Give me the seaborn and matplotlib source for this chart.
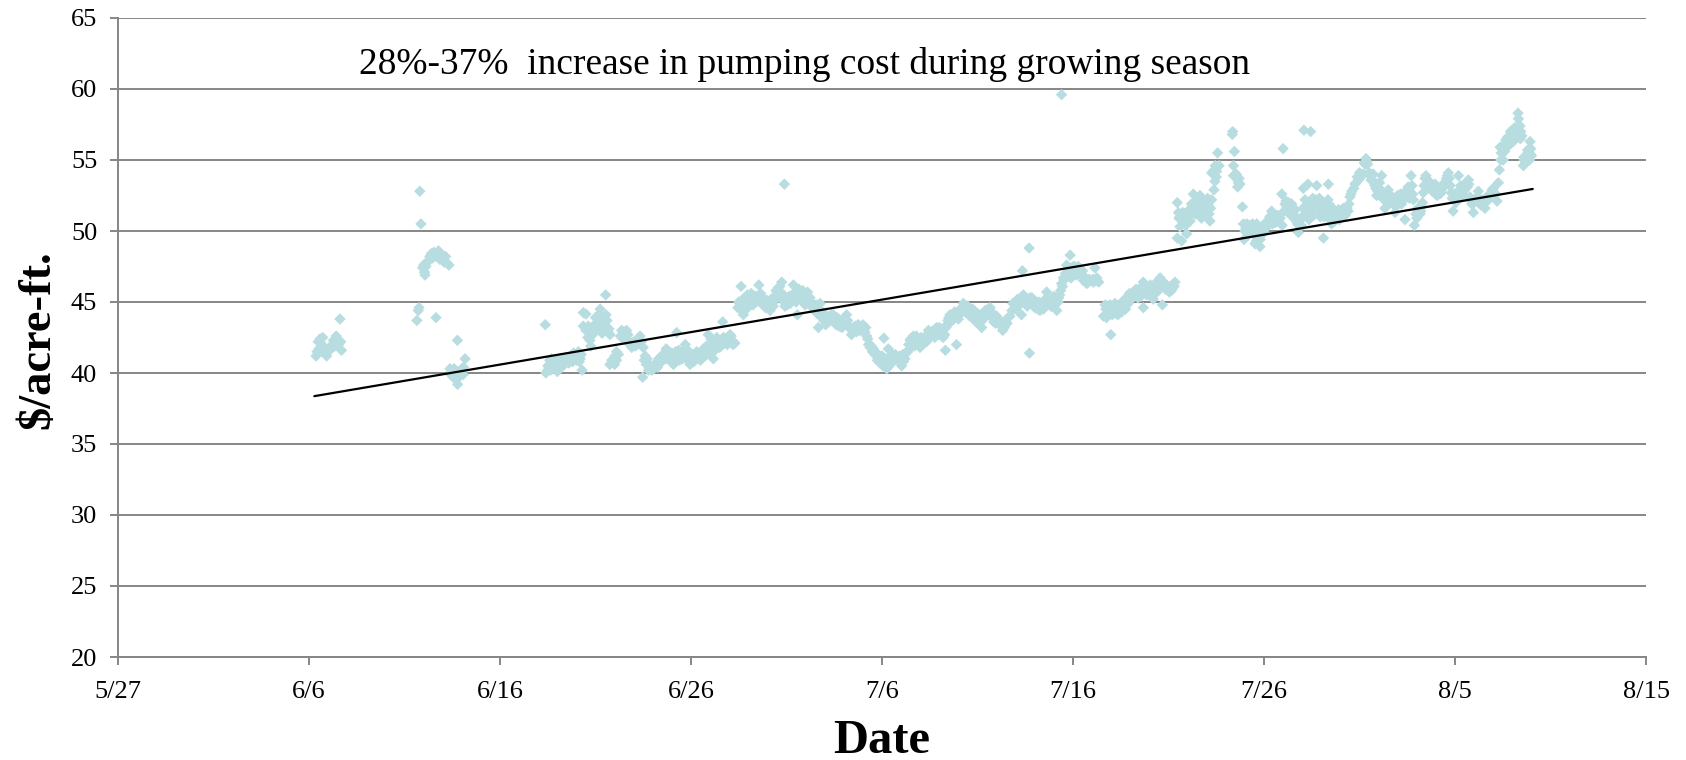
import matplotlib
matplotlib.use("Agg")
import matplotlib.pyplot as plt
import pandas as pd
import seaborn as sns

# days since 5/27 and pumping cost in $/acre-ft
a_days = [10.37,10.42,10.48,10.52,10.58,10.62,10.68,10.72,10.78,10.85,10.92,11.0,11.08,11.15,11.22,11.28,11.35,11.42,11.48,11.55,11.62,11.66,11.7]
a_vals = [41.2,41.5,42.2,41.7,42.4,42.1,41.6,42.5,41.8,41.5,41.2,41.7,41.6,41.9,41.8,42.3,41.9,42.6,42.3,42.0,43.8,42.2,41.6]

b_days = [15.65,15.72,15.76,15.8,15.86,15.95,16.0,16.05,16.07,16.12,16.18,16.25,16.32,16.4,16.48,16.55,16.65,16.7,16.78,16.85,16.92,17.0,17.08,17.15,17.25,17.33]
b_vals = [43.7,44.4,44.6,52.8,50.5,47.4,47.6,47.1,46.9,47.5,47.8,47.9,48.2,48.4,48.1,48.5,43.9,48.2,48.6,48.0,48.4,48.2,47.8,48.2,47.7,47.6]

c_days = [17.38,17.42,17.48,17.55,17.6,17.66,17.72,17.77,17.78,17.85,17.92,18.0,18.08,18.17,18.1]
c_vals = [40.3,39.9,40.1,39.7,40.3,39.6,40.0,42.3,39.2,39.7,40.1,40.3,39.9,41.0,40.4]

d_days = [22.37,22.4,22.5,22.6,22.65,22.75,22.85,22.95,23.05,23.1,23.2,23.3,23.4,23.5,23.6,23.7,23.8,23.85,23.95,24.05,
          24.15,24.25,24.3,24.36,24.5,24.36,24.5,24.6,24.71,24.62,24.8,24.75,24.85,24.95,25.0,25.1,25.15,25.24,25.3,25.35,
          25.4,25.53,25.55,25.6,25.65,25.76,25.75,25.85,25.93,26.02,26.1,26.2,26.3,26.37,26.45,26.55,26.63,26.72,26.8,26.9,
          27.0,27.1,27.2,27.33,27.4,27.47,27.5,27.55,27.6,27.66,27.77,27.87,27.95,28.05,28.15,28.25,28.37,28.47,28.55,28.65,
          28.7,28.8,28.9,29.0,29.08,29.18,29.25,29.3,29.4,29.5,29.6,29.7,29.78,29.86]
d_vals = [43.4,40.0,40.5,40.9,40.2,40.7,40.3,40.9,40.4,40.8,40.6,41.0,40.7,41.0,40.7,41.2,40.8,41.4,41.0,41.3,
          40.8,41.3,40.2,44.25,44.15,43.3,43.0,42.5,42.3,43.3,43.0,41.9,42.7,43.4,43.9,43.4,44.1,44.5,43.7,42.8,
          43.5,45.5,44.1,43.2,42.9,42.7,40.6,40.9,40.9,41.2,40.9,41.3,42.6,43.0,42.4,42.7,43.0,42.3,42.0,41.8,
          42.2,41.9,42.1,42.6,42.2,39.7,41.8,40.9,41.2,40.6,40.2,40.5,40.2,40.3,40.7,40.4,40.9,41.2,40.9,41.1,
          41.7,41.3,41.0,41.4,40.6,41.0,42.85,41.3,40.9,41.5,41.2,42.0,41.4,41.1]

e_days = [29.95,30.05,30.15,30.3,30.4,30.5,30.6,30.72,30.82,30.9,30.95,31.05,31.17,31.25,31.35,31.42,31.5,31.58,31.66,31.75,
          31.85,31.95,32.04,32.15,32.3,32.45,32.5,32.6,32.65,32.62,32.74,32.85,32.95,33.0,33.1,33.2,33.3,33.4,33.55,33.6,
          33.7,33.8,33.9,34.0,34.14,34.25,34.35,34.45,34.57,34.7,34.75,34.89,34.92,35.0,35.1,35.2,35.3,35.36,35.45,35.53,
          35.57,35.65,35.75,35.85,35.97,36.05,36.15,36.23,36.35,36.5,36.67,36.76,36.85,36.95,37.05,37.15,37.3,37.45,37.55,37.65,
          37.75,37.9,38.0,38.15,38.3,38.4,38.5,38.65,38.8,39.0,39.1,39.2,39.3,39.37,39.5,39.64,39.75,39.9,40.0,40.1,
          40.15,40.25,40.33,40.42]
e_vals = [40.6,41.1,40.8,41.5,41.0,40.9,41.4,41.2,41.9,42.7,41.4,42.4,41.0,41.6,42.5,42.0,41.8,42.3,43.6,42.1,
          42.4,42.2,42.7,42.3,42.1,44.6,45.0,44.5,45.1,46.1,44.1,44.8,45.5,44.7,45.3,44.9,45.2,45.0,46.2,45.0,
          45.3,44.8,44.6,45.1,44.4,44.9,45.3,45.8,46.0,45.6,46.4,53.3,44.7,45.3,45.0,44.9,45.5,46.2,45.2,45.6,
          44.1,45.9,45.4,45.8,44.8,45.4,45.0,45.3,44.6,44.4,43.2,44.9,43.9,43.7,43.4,44.0,43.7,44.1,43.6,43.9,
          43.3,43.2,43.7,44.1,43.3,42.7,43.2,42.9,43.0,43.4,42.9,42.6,42.0,41.8,41.5,41.3,40.9,40.7,41.2,42.45,
          40.6,40.3,41.7,41.1]

f_days = [40.5,40.6,40.7,40.82,40.93,41.03,41.12,41.2,41.3,41.4,41.47,41.55,41.64,41.75,41.87,41.99,42.1,42.22,42.33,42.43,
          42.55,42.66,42.76,42.86,42.98,43.1,43.2,43.32,43.35,43.45,43.56,43.68,43.8,43.9,44.0,44.1,44.26,44.4,44.55,44.68,
          44.8,44.92,45.05,45.22,45.35,45.5,45.66,45.72,45.85,46.0,46.15,46.32,46.45,46.6,46.8,46.95,47.1,47.3,47.35,47.4,
          47.55,47.7,47.72,47.75,47.9,48.05,48.15,48.27,48.4,48.5,48.62,48.75,48.9,49.0,49.15,49.22,49.3,49.4,49.5,49.6,
          49.67,49.75,49.85,49.95,50.05,50.15,50.28,50.4,50.5,50.6,50.72,50.85,51.15,51.07,51.2,51.35]
f_vals = [40.8,40.9,41.3,40.9,41.2,40.5,40.8,41.0,41.5,42.0,42.3,41.9,42.6,42.2,42.4,41.8,42.3,42.5,42.2,43.0,
          42.6,42.8,42.5,43.2,42.7,43.0,42.5,41.6,43.2,43.7,44.1,43.9,44.3,42.0,43.8,44.5,44.9,44.6,44.3,44.0,
          44.1,43.6,43.8,43.2,43.9,44.2,44.6,44.0,43.6,44.0,43.4,43.0,43.6,43.9,44.4,44.9,45.2,44.1,47.2,45.5,
          45.1,48.8,41.4,45.3,44.8,45.0,44.5,44.4,44.8,45.1,45.7,44.9,45.0,45.4,44.4,45.0,45.5,46.3,46.7,47.0,
          47.6,46.8,48.3,47.2,46.9,47.3,47.5,47.0,47.2,46.7,46.3,46.6,47.4,46.4,46.5,46.4]

g_days = [51.6,51.68,51.75,51.85,51.98,51.95,52.05,52.15,52.25,52.35,52.5,52.64,52.75,52.85,52.95,53.05,53.16,53.25,53.35,53.45,
          53.55,53.68,53.68,53.8,53.95,54.12,54.2,54.3,54.4,54.56,54.68,54.72,54.85,54.99,55.1,55.22,55.34]
g_vals = [44.0,44.8,43.9,44.6,42.7,44.8,44.1,44.4,44.2,44.1,44.7,45.1,44.5,45.0,45.6,45.2,45.7,45.8,45.5,45.9,
          45.4,46.4,44.6,45.8,46.0,45.8,45.2,46.3,45.7,46.7,44.8,46.4,45.9,45.8,46.1,46.0,46.4]

h_days = [55.46,55.46,55.52,55.6,55.69,55.72,55.86,55.95,56.02,56.13,56.2,56.3,56.4,56.48,56.56,56.65,56.72,56.82,56.9,57.0,
          57.08,57.17,57.26,57.38,57.43,57.26,57.4,57.52,57.57,57.65,58.34,58.36,58.45,58.4,58.5,58.57,58.65,58.74,58.87,58.92,
          58.95,59.05,59.15,59.25,59.35,59.45,59.53,59.62,59.72,59.79,59.85,60.0,60.1,60.25,60.4,60.45,60.6,60.75,60.93,61.0,
          61.05,61.15,61.25,61.36,61.45,61.55,61.65,61.8,61.9,62.0,62.06,62.09,62.15,62.3,62.35,62.44,62.5,62.6,62.76,62.7,
          62.85,62.95,63.05,63.11,63.2,63.37,63.35,63.45,63.54,63.65,63.8,63.9,64.0,64.15,64.25,64.4]
h_vals = [52.0,49.5,51.3,50.3,49.3,50.8,51.2,49.8,51.4,50.7,51.9,52.6,51.2,52.2,51.6,52.5,50.9,51.4,52.0,51.1,
          51.8,50.7,52.2,52.9,53.5,54.1,54.3,54.2,55.5,54.6,56.8,57.0,55.6,54.6,53.9,53.7,53.4,53.3,51.7,50.5,
          49.4,50.2,49.7,50.4,50.1,50.0,49.1,50.5,49.5,48.9,50.1,49.9,50.2,50.8,51.4,50.5,50.6,50.7,52.6,55.8,
          51.4,52.1,51.3,51.6,51.9,50.9,51.5,49.9,50.3,51.0,53.0,57.1,52.2,53.3,50.8,57.0,52.1,51.1,53.2,52.2,
          51.6,51.0,51.7,49.5,51.3,53.3,52.2,51.5,50.5,51.2,50.9,51.5,51.2,51.6,51.1,51.4]

i_days = [64.5,64.6,64.76,64.88,65.0,65.12,65.25,65.34,65.42,65.5,65.6,65.72,65.8,65.9,66.0,66.16,66.2,66.33,66.4,66.5,
          66.6,66.72,66.86,66.95,67.08,67.2,67.38,67.42,67.55,67.62,67.7,67.82,67.87,67.95,68.05,68.17,68.25,68.34,68.43,68.52,
          68.65,68.75,68.88,69.0,69.08,69.2,69.32,69.45,69.55,69.65,69.75,69.85,69.9,70.0,70.1,70.18,70.25,70.35,70.45,70.58,
          70.7,70.78,70.88,70.96,71.05,71.22,71.3,71.45,71.57,71.68,71.8,71.95,72.05,72.2,72.27,72.32,72.36,72.42,72.53,72.6,
          72.7,72.85,72.97,73.05,73.14,73.25,73.3,73.32,73.4,73.42,73.5,73.58,73.62,73.72,73.8,73.93,73.95,74.0,73.7]
i_vals = [52.4,52.8,53.3,53.8,54.1,53.9,54.8,55.1,54.7,54.1,53.6,54.0,53.2,52.5,53.0,53.9,52.8,51.6,52.5,52.9,
          52.0,52.3,51.3,52.1,52.5,51.9,50.8,52.8,53.1,52.3,53.9,52.2,50.4,51.2,51.6,51.2,51.7,52.7,53.7,53.3,
          53.5,52.9,53.1,52.7,52.9,52.6,53.0,53.4,53.7,54.1,53.2,52.3,51.4,52.2,52.6,53.9,52.9,52.4,53.2,53.4,
          53.6,52.4,51.9,51.3,52.2,52.8,51.9,52.2,51.6,52.1,52.6,52.9,52.7,52.1,53.4,54.3,55.9,55.5,55.0,55.6,
          56.2,56.7,56.9,56.3,57.3,56.7,58.3,57.9,57.4,56.5,56.7,54.6,55.0,55.3,55.7,56.3,55.4,55.3,54.8]

# second pass of readings inside the dense bands
j_days = [22.5,22.7,22.9,23.0,23.15,23.3,23.45,23.55,23.75,23.9,24.0,24.1,24.2,24.9,25.05,25.2,25.25,25.45,25.5,25.6,
          25.7,26.0,26.1,26.5,26.7,26.95,27.15,27.3,27.7,27.85,28.0,28.2,28.3,28.45,28.6,28.75,28.85,28.95,29.1,29.2,
          29.35,29.45,29.55,29.65,29.75,29.9,30.1,30.25,30.45,30.55,30.65,30.8,31.0,31.1,31.2,31.3,31.45,31.55,31.7,31.9,
          32.1,32.2]
j_vals = [40.2,41.0,40.6,40.1,41.0,40.5,41.1,40.9,41.0,41.3,40.9,41.5,41.0,42.9,43.1,43.2,43.9,43.9,43.4,43.7,
          43.1,40.6,41.5,42.9,42.7,41.9,42.3,42.2,41.0,40.3,40.5,40.7,41.0,40.8,41.4,41.0,41.5,40.8,41.2,41.5,
          41.6,41.2,41.0,41.6,41.0,41.5,41.3,41.0,41.4,41.0,41.7,41.3,41.7,41.5,41.9,42.2,42.3,41.9,42.5,42.0,
          42.6,42.0]

k_days = [32.55,32.7,32.8,32.9,33.05,33.15,33.25,33.35,33.45,33.65,33.75,33.85,33.95,34.05,34.2,34.3,34.4,34.5,34.65,34.8,
          34.85,35.05,35.15,35.25,35.4,35.5,35.6,35.7,35.8,35.9,36.0,36.1,36.2,36.3,36.4,36.55,36.6,36.7,36.8,36.9,
          37.0,37.1,37.2,37.35,37.5,37.6,37.7,37.85,38.05,38.2,38.35,38.45,38.6,38.75,38.9,39.05,39.15,39.25,39.45,39.55,
          39.7,39.8,39.95,40.05,40.2,40.35,40.45,40.55]
k_vals = [44.9,44.5,45.3,44.5,45.0,45.6,44.8,45.4,45.4,45.6,45.2,45.2,44.9,44.7,45.2,44.7,45.4,45.3,46.1,45.1,
          45.5,44.8,45.4,45.2,45.6,45.0,45.6,45.7,45.2,45.3,45.1,45.7,44.9,45.0,44.7,44.8,44.2,44.1,44.4,44.2,
          43.9,43.7,43.6,44.1,43.9,43.4,43.8,43.7,43.4,43.7,43.1,43.0,43.3,43.4,43.0,43.1,43.2,42.4,41.9,41.7,
          41.2,41.3,40.9,40.5,41.0,41.0,40.6,41.3]

l_days = [41.1,41.35,41.5,41.7,41.8,41.95,42.05,42.2,42.3,42.45,42.6,42.7,42.9,43.0,43.15,43.28,43.4,43.5,43.6,43.75,
          43.85,43.95,44.05,44.2,44.35,44.5,44.6,44.75,44.85,45.0,45.1,45.25,45.4,45.55,45.6,45.8,45.95,46.1,46.25,46.4,
          46.55,46.7,46.85,47.0,47.2,47.45,47.6,47.85,48.0,48.2,48.35,48.45,48.55,48.7,48.85,48.95,49.1,49.25,49.35,49.45,
          49.55,49.7,49.8,49.9,50.0,50.1,50.2,50.35,50.45,50.55,50.65,50.8,50.95,51.05,51.25]
l_vals = [41.3,41.5,42.4,41.9,42.6,42.2,42.5,42.1,42.6,42.5,42.9,43.0,42.7,43.2,42.9,42.7,43.4,43.9,43.6,43.8,
          44.0,44.3,44.1,44.5,44.3,44.7,44.0,44.5,43.9,44.2,43.5,43.7,44.4,44.5,44.1,44.2,43.5,43.8,43.4,43.2,
          43.5,44.0,44.9,44.5,44.8,45.0,44.7,45.3,44.6,45.0,44.6,44.5,45.2,45.3,44.7,45.2,44.9,45.3,45.8,46.1,
          46.6,47.0,47.4,46.7,47.5,47.5,46.9,47.3,46.8,46.5,46.7,46.4,46.5,46.6,46.7]

m_days = [51.72,51.9,52.1,52.2,52.4,52.55,52.7,52.8,52.9,53.0,53.1,53.2,53.3,53.4,53.5,53.6,53.75,53.85,54.0,54.05,
          54.25,54.35,54.5,54.6,54.8,54.9,55.05,55.15,55.3,55.55,55.6,55.75,55.8,55.9,56.0,56.1,56.25,56.35,56.45,56.55,
          56.6,56.7,56.8,56.95,57.05,57.12,57.2,57.35,57.45,57.5,58.4,58.55,58.7,58.62]
m_vals = [44.5,44.2,44.7,44.9,44.4,44.3,44.8,45.3,44.9,45.5,45.3,45.4,45.9,45.3,45.7,45.9,46.1,45.5,45.6,46.2,
          45.9,46.1,46.1,46.4,46.3,46.2,45.7,45.8,46.1,50.9,51.0,51.3,50.6,50.4,50.7,51.4,51.3,52.0,51.6,52.3,
          51.2,51.9,52.2,51.5,52.3,51.2,51.6,54.0,54.6,53.8,53.9,54.0,53.7,53.1]

n_days = [59.0,59.1,59.2,59.3,59.4,59.5,59.6,59.7,59.8,59.95,60.05,60.15,60.3,60.5,60.55,60.7,60.85,60.95,61.1,61.2,
          61.3,61.4,61.5,61.6,61.7,61.75,61.85,61.95,62.05,62.2,62.25,62.4,62.55,62.65,62.8,62.9,63.0,63.15,63.25,63.3,
          63.4,63.5,63.6,63.7,63.85,63.95,64.05,64.2,64.35,64.45]
n_vals = [50.0,50.5,50.0,49.9,50.5,49.7,49.3,50.2,49.4,50.4,50.5,50.6,51.0,50.9,51.0,51.1,50.9,50.4,51.9,51.7,
          52.0,51.2,51.4,51.1,50.7,50.5,50.7,50.4,51.6,51.8,51.4,52.0,52.3,51.6,52.0,52.3,51.4,51.0,52.0,51.0,
          51.9,51.0,51.6,50.7,51.2,50.8,51.4,51.4,51.6,51.9]

o_days = [64.55,64.7,64.82,64.95,65.05,65.2,65.3,65.38,65.55,65.65,65.75,65.85,65.95,66.05,66.1,66.28,66.45,66.55,66.65,66.8,
          66.9,67.0,67.15,67.3,67.48,67.6,67.75,67.78,68.0,68.1,68.2,68.3,68.38,68.48,68.6,68.7,68.82,68.95,69.05,69.15,
          69.28,69.4,69.5,69.6,69.7,69.8,69.95,70.05,70.2,70.3,70.4,70.5,70.65,70.72,70.82,71.0,71.15,71.25,71.4,71.5,
          71.62,71.75,71.88,72.0,72.12,72.4,72.48,72.65,72.75,72.8,72.9,73.0,73.1,73.2,73.28,73.35,73.45,73.6,73.75,73.85,
          73.9,73.97]
o_vals = [52.6,53.0,53.4,53.6,53.8,54.0,54.7,54.9,53.9,54.0,53.5,53.0,52.8,53.4,52.6,52.2,52.2,52.5,52.5,52.0,
          51.7,52.5,52.6,52.2,52.4,52.8,53.2,52.6,50.9,51.3,51.4,52.0,53.2,53.9,53.2,53.0,52.8,53.3,52.5,52.8,
          52.7,53.1,53.2,53.9,53.7,52.7,52.6,52.0,52.7,53.2,52.6,52.9,53.1,53.3,52.2,52.0,52.4,52.3,51.8,52.0,
          52.3,52.3,52.6,53.0,52.6,55.0,55.9,56.4,56.6,56.0,57.0,56.7,56.8,57.0,57.3,56.9,57.0,55.2,55.1,55.6,
          55.0,55.8]

top_day = [49.4]
top_val = [59.6]

trend_days = [10.28, 74.07]
trend_vals = [38.37, 52.96]

x_ticks = [0, 10, 20, 30, 40, 50, 60, 70, 80]
x_labels = ["5/27", "6/6", "6/16", "6/26", "7/6", "7/16", "7/26", "8/5", "8/15"]
y_ticks = [20, 25, 30, 35, 40, 45, 50, 55, 60, 65]
annotation = "28%-37%  increase in pumping cost during growing season"

day_sets = [a_days, b_days, c_days, d_days, e_days, f_days, g_days, h_days, i_days,
            j_days, k_days, l_days, m_days, n_days, o_days, top_day]
val_sets = [a_vals, b_vals, c_vals, d_vals, e_vals, f_vals, g_vals, h_vals, i_vals,
            j_vals, k_vals, l_vals, m_vals, n_vals, o_vals, top_val]
df = pd.concat([pd.DataFrame({"day": d, "cost": v}) for d, v in zip(day_sets, val_sets)], ignore_index=True)
trend = pd.DataFrame({"day": trend_days, "cost": trend_vals})

sns.set_theme(style="white")
plt.rcParams["font.family"] = ["Liberation Serif", "DejaVu Serif"]
GRAY = "#868686"

fig = plt.figure(figsize=(16.86, 7.6), dpi=100)
ax = fig.add_axes([118 / 1686, 1 - 657 / 760, (1646 - 118) / 1686, (657 - 18) / 760])

sns.scatterplot(data=df, x="day", y="cost", marker="D", s=34, color="#B7DDE0",
                edgecolor="none", linewidth=0, ax=ax, zorder=3, clip_on=False)
sns.lineplot(data=trend, x="day", y="cost", color="black", linewidth=1.6, ax=ax,
             zorder=4, errorbar=None)

ax.set_xlim(0, 80)
ax.set_ylim(20, 65)
ax.set_xticks(x_ticks)
ax.set_xticklabels(x_labels)
ax.set_yticks(y_ticks)
ax.yaxis.grid(True, color=GRAY, linewidth=1.4)
ax.xaxis.grid(False)
ax.set_axisbelow(True)
for side in ("top", "right"):
    ax.spines[side].set_visible(False)
for side in ("left", "bottom"):
    ax.spines[side].set_color(GRAY)
    ax.spines[side].set_linewidth(1.4)
ax.tick_params(axis="both", which="major", length=6, width=1.4, color=GRAY,
               labelsize=19, labelcolor="black", left=True, bottom=True)
ax.tick_params(axis="x", pad=11.5)
ax.tick_params(axis="y", pad=9)
ax.set_xlabel("Date", fontsize=35, fontweight="bold", color="black", labelpad=11)
ax.set_ylabel("$/acre-ft.", fontsize=33.5, fontweight="bold", color="black", labelpad=8, y=0.496)
ax.text(359 / 1686, 1 - 64 / 760, annotation, transform=fig.transFigure, fontsize=26.9,
        color="black", va="center", ha="left")

fig.savefig("out.png", dpi=100)
